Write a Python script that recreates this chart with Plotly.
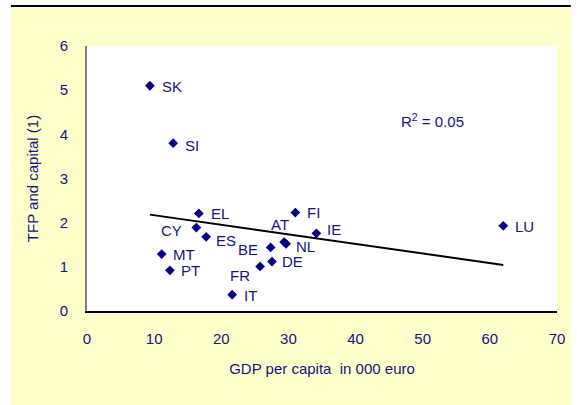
import numpy as np
import plotly.graph_objects as go

# Country codes, GDP per capita (000 euro) and TFP-and-capital contribution
countries = ["SK", "SI", "EL", "CY", "ES", "MT", "PT", "BE", "DE", "FR",
             "IT", "AT", "NL", "FI", "IE", "LU"]
gdp_pc = [9.37, 12.84, 16.66, 16.28, 17.75, 11.13, 12.35, 27.35, 27.55, 25.78,
          21.62, 29.36, 29.65, 31.03, 34.16, 62.0]
tfp_cap = [5.10, 3.80, 2.21, 1.89, 1.68, 1.29, 0.92, 1.44, 1.12, 1.01,
           0.37, 1.56, 1.52, 2.23, 1.76, 1.93]

x_ticks = [0, 10, 20, 30, 40, 50, 60, 70]
y_ticks = [0, 1, 2, 3, 4, 5, 6]
r2_text = "R<sup>2</sup> = 0.05"
x_title = "GDP per capita\u00a0 in 000 euro"
y_title = "TFP and capital (1)"

NAVY = "#000080"
TEXT = "#14147f"
FONT = "Liberation Sans, Arial, sans-serif"
FS = 15

# Label placement per country: (anchor, x shift px, y shift px)
label_place = {
    "SK": ("left", 10, -1), "SI": ("left", 10, -2), "EL": ("left", 10, 0),
    "CY": ("right", -12, -3), "ES": ("left", 8, -4), "MT": ("left", 9, 0),
    "PT": ("left", 9, 0), "BE": ("right", -11, -2), "DE": ("left", 8, 0),
    "FR": ("right", -8, -9), "IT": ("left", 10, -1), "AT": ("center", -4, 18),
    "NL": ("left", 8, -3), "FI": ("left", 10, 0), "IE": ("left", 9, 4),
    "LU": ("left", 10, -1),
}

# Linear trend over the data range
slope, intercept = np.polyfit(gdp_pc, tfp_cap, 1)
tx = np.array([min(gdp_pc), max(gdp_pc)])
ty = slope * tx + intercept

fig = go.Figure()
fig.add_trace(go.Scatter(x=tx, y=ty, mode="lines",
                         line=dict(color="black", width=2), hoverinfo="skip"))
fig.add_trace(go.Scatter(x=gdp_pc, y=tfp_cap, mode="markers",
                         marker=dict(symbol="diamond", size=7.5, color=NAVY),
                         text=countries))

annotations = []
for c, xv, yv in zip(countries, gdp_pc, tfp_cap):
    anc, dx, dy = label_place[c]
    annotations.append(dict(x=xv, y=yv, xref="x", yref="y", text=c,
                            showarrow=False, xanchor=anc, yanchor="middle",
                            xshift=dx, yshift=dy,
                            font=dict(family=FONT, size=FS, color=TEXT)))
annotations.append(dict(x=51.5, y=4.32, xref="x", yref="y", text=r2_text,
                        showarrow=False, xanchor="center", yanchor="middle",
                        font=dict(family=FONT, size=FS, color=TEXT)))

L, R, T, B = 87, 14, 46, 94
W, H = 577, 405
pw, ph = W - L - R, H - T - B


def px_to_paper(px, py):
    return (px - L) / pw, (H - B - py) / ph


yx0, yy0 = px_to_paper(10, 405)
yx1, yy1 = px_to_paper(577, 7)
lx0, ly = px_to_paper(10, 6)
lx1, _ = px_to_paper(577, 6)

shapes = [
    dict(type="rect", xref="paper", yref="paper", x0=yx0, x1=yx1, y0=yy0, y1=yy1,
         fillcolor="#ffffcc", line=dict(width=0), layer="below"),
    dict(type="rect", xref="paper", yref="paper", x0=0, x1=1, y0=0, y1=1,
         fillcolor="white", line=dict(width=0), layer="below"),
    dict(type="line", xref="paper", yref="paper", x0=lx0, x1=lx1, y0=ly, y1=ly,
         line=dict(color="black", width=2)),
]

fig.update_layout(
    width=W, height=H,
    margin=dict(l=L, r=R, t=T, b=B, pad=0),
    paper_bgcolor="white", plot_bgcolor="white",
    showlegend=False,
    shapes=shapes, annotations=annotations,
    font=dict(family=FONT, size=FS, color=TEXT),
    xaxis=dict(range=[0, 70], tickvals=x_ticks, showgrid=False, zeroline=False,
               showline=True, linecolor="black", linewidth=2, ticks="",
               ticklabelstandoff=13,
               title=dict(text=x_title, standoff=17,
                          font=dict(size=FS, color=TEXT)),
               tickfont=dict(size=FS, color=TEXT)),
    yaxis=dict(range=[0, 6], tickvals=y_ticks, showgrid=False, zeroline=False,
               showline=True, linecolor="#808080", linewidth=2, ticks="",
               ticklabelstandoff=14,
               title=dict(text=y_title, standoff=17,
                          font=dict(size=FS, color=TEXT)),
               tickfont=dict(size=FS, color=TEXT)),
)

fig.write_html("out.html")
